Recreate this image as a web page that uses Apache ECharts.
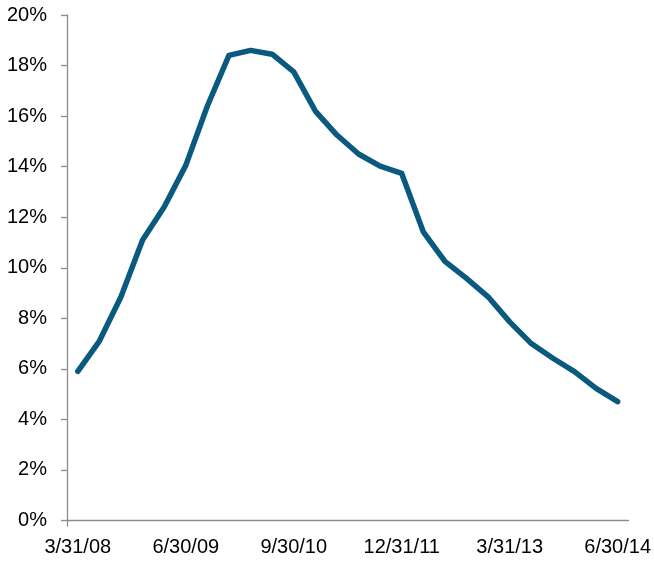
<!DOCTYPE html>
<html>
<head>
<meta charset="utf-8">
<script src="https://cdn.jsdelivr.net/npm/echarts@6/dist/echarts.min.js"></script>
<style>
  html, body { margin: 0; padding: 0; background: #fff; }
  #chart { width: 654px; height: 561px; }
</style>
</head>
<body>
<div id="chart"></div>
<script>
// Quarter-end dates, 2008 Q1 through 2014 Q2
const quarters = [
  '3/31/08', '6/30/08', '9/30/08', '12/31/08',
  '3/31/09', '6/30/09', '9/30/09', '12/31/09',
  '3/31/10', '6/30/10', '9/30/10', '12/31/10',
  '3/31/11', '6/30/11', '9/30/11', '12/31/11',
  '3/31/12', '6/30/12', '9/30/12', '12/31/12',
  '3/31/13', '6/30/13', '9/30/13', '12/31/13',
  '3/31/14', '6/30/14'
];

// Rate, in percent
const rate = [
  5.9, 7.1, 8.85, 11.1,
  12.4, 14.05, 16.4, 18.4,
  18.6, 18.45, 17.75, 16.2,
  15.25, 14.5, 14.02, 13.73,
  11.42, 10.25, 9.58, 8.85,
  7.86, 7.0, 6.42, 5.89,
  5.23, 4.7
];

// Value axis ticks
const yMin = 0, yMax = 20, yStep = 2;

const chart = echarts.init(document.getElementById('chart'), null, { renderer: 'canvas' });
const font = 'Liberation Sans, Arial, sans-serif';
const axisGrey = '#8c8c8c';
chart.setOption({
  animation: false,
  grid: { left: 67, right: 24, top: 15, bottom: 40.5, containLabel: false },
  xAxis: [{
    type: 'category',
    data: quarters,
    boundaryGap: true,
    axisLine: { lineStyle: { color: axisGrey, width: 1.3 } },
    axisTick: { show: false },
    axisLabel: {
      interval: 4,
      color: '#000',
      fontFamily: font,
      fontSize: 20,
      margin: 17
    },
    splitLine: { show: false }
  }, {
    // helper axis: only the single tick at the origin
    type: 'value',
    position: 'bottom',
    min: 0, max: 1,
    axisLine: { show: false },
    axisLabel: { show: false },
    splitLine: { show: false },
    axisTick: {
      show: true,
      length: 6,
      customValues: [0],
      lineStyle: { color: axisGrey, width: 1.3 }
    }
  }],
  yAxis: {
    type: 'value',
    min: yMin, max: yMax, interval: yStep,
    axisLine: { show: true, lineStyle: { color: axisGrey, width: 1.3 } },
    axisTick: { show: true, length: 6, lineStyle: { color: axisGrey, width: 1.3 } },
    axisLabel: {
      formatter: '{value}%',
      color: '#000',
      fontFamily: font,
      fontSize: 20,
      margin: 20
    },
    splitLine: { show: false }
  },
  series: [{
    type: 'line',
    xAxisIndex: 0,
    data: rate,
    symbol: 'none',
    smooth: false,
    lineStyle: { color: '#0a5a80', width: 5.5, join: 'round', cap: 'round' }
  }]
});
</script>
</body>
</html>
